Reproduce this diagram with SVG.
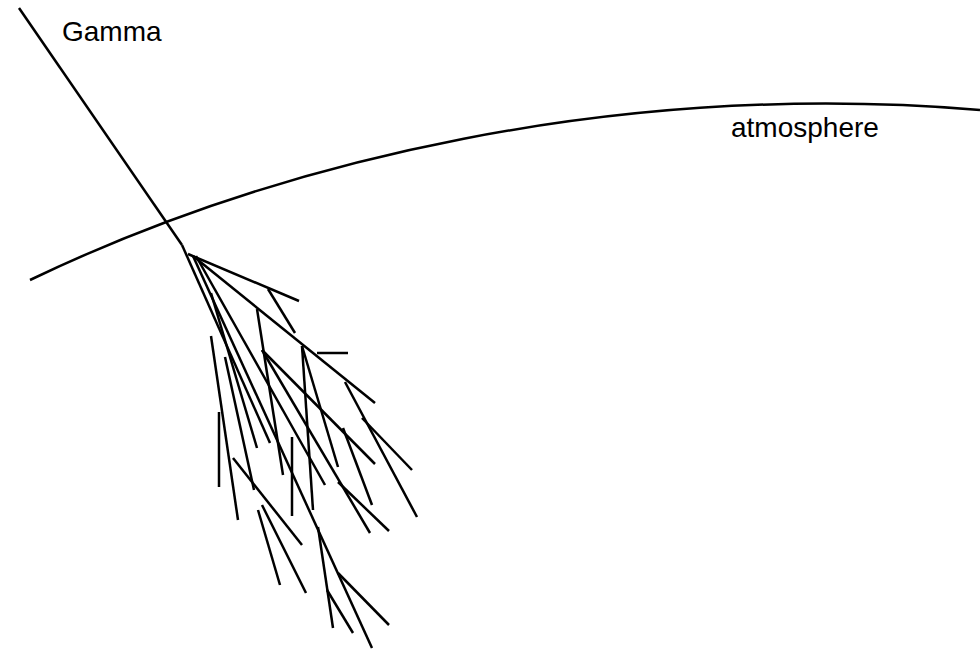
<svg xmlns="http://www.w3.org/2000/svg" width="980" height="650" viewBox="0 0 980 650">
  <style>
    .ln { stroke: #000; stroke-width: 2.5; fill: none; stroke-linecap: butt; }
    .lbl { font-family: "Liberation Sans", Arial, Helvetica, sans-serif; font-size: 28px; fill: #000; }
  </style>
  <rect width="980" height="650" fill="#fff"/>

  <!-- atmosphere boundary -->
  <g id="atmosphere">
    <path class="ln" d="M30,280 C280,160 620,80 980,110"/>
    <text class="lbl" x="731" y="137">atmosphere</text>
  </g>

  <!-- incoming gamma ray -->
  <g id="gamma">
    <line class="ln" x1="19" y1="8" x2="182" y2="245"/>
    <text class="lbl" x="62" y="41">Gamma</text>
  </g>

  <!-- particle shower tracks -->
  <g id="shower">
    <line class="ln" x1="182" y1="245" x2="270" y2="443"/>
    <line class="ln" x1="188" y1="254" x2="299" y2="301"/>
    <line class="ln" x1="268" y1="289" x2="295" y2="333"/>
    <line class="ln" x1="193" y1="256" x2="375" y2="403"/>
    <line class="ln" x1="257" y1="309" x2="283" y2="475"/>
    <line class="ln" x1="262" y1="350" x2="375" y2="464"/>
    <line class="ln" x1="317" y1="353" x2="348" y2="353"/>
    <line class="ln" x1="302" y1="346" x2="338" y2="467"/>
    <line class="ln" x1="302" y1="346" x2="313" y2="510"/>
    <line class="ln" x1="345" y1="382" x2="417" y2="517"/>
    <line class="ln" x1="362" y1="418" x2="412" y2="470"/>
    <line class="ln" x1="343" y1="428" x2="372" y2="505"/>
    <line class="ln" x1="193" y1="256" x2="372" y2="648"/>
    <line class="ln" x1="196" y1="256" x2="325" y2="485"/>
    <line class="ln" x1="211" y1="293" x2="257" y2="448"/>
    <line class="ln" x1="225" y1="357" x2="254" y2="490"/>
    <line class="ln" x1="211" y1="336" x2="238" y2="520"/>
    <line class="ln" x1="219" y1="412" x2="219" y2="487"/>
    <line class="ln" x1="292" y1="437" x2="292" y2="516"/>
    <line class="ln" x1="262" y1="350" x2="370" y2="533"/>
    <line class="ln" x1="338" y1="482" x2="389" y2="531"/>
    <line class="ln" x1="233" y1="458" x2="302" y2="545"/>
    <line class="ln" x1="258" y1="510" x2="280" y2="585"/>
    <line class="ln" x1="262" y1="505" x2="306" y2="593"/>
    <line class="ln" x1="318" y1="527" x2="333" y2="628"/>
    <line class="ln" x1="327" y1="590" x2="353" y2="633"/>
    <line class="ln" x1="338" y1="573" x2="389" y2="625"/>
  </g>
</svg>
